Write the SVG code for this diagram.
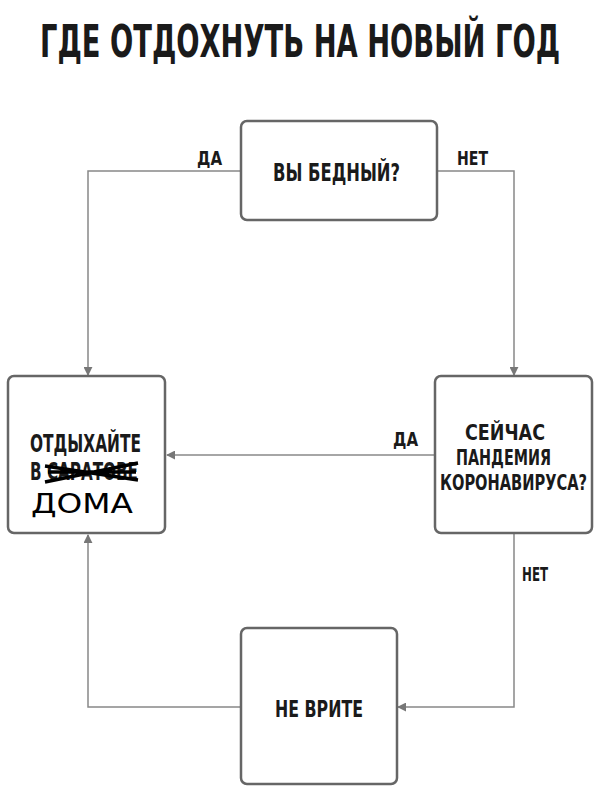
<svg xmlns="http://www.w3.org/2000/svg" width="600" height="790" viewBox="0 0 600 790">
<style>
.t{font-family:"DejaVu Sans Condensed","DejaVu Sans",sans-serif;font-weight:bold;fill:#1a1a1a;text-anchor:start}
.box{fill:#fff;stroke:#666;stroke-width:2.5}
.c{fill:none;stroke:#888;stroke-width:1.5}
</style>
<defs><marker id="a" viewBox="0 0 10 10" refX="9" refY="5" markerWidth="9" markerHeight="9" orient="auto" markerUnits="userSpaceOnUse"><path d="M0,0L10,5L0,10z" fill="#777"/></marker></defs>
<rect width="600" height="790" fill="#fff"/>
<text class="t" x="40" y="57" font-size="44" textLength="520" lengthAdjust="spacingAndGlyphs">ГДЕ ОТДОХНУТЬ НА НОВЫЙ ГОД</text>
<g id="connectors">
<path class="c" d="M241,171H88V375" marker-end="url(#a)"/>
<path class="c" d="M437,171H514V375" marker-end="url(#a)"/>
<path class="c" d="M435,455H167" marker-end="url(#a)"/>
<path class="c" d="M514,533V707H398" marker-end="url(#a)"/>
<path class="c" d="M241,707H88V535" marker-end="url(#a)"/>
<text class="t" x="197" y="165" font-size="20" textLength="25" lengthAdjust="spacingAndGlyphs">ДА</text>
<text class="t" x="457" y="165" font-size="20" textLength="31" lengthAdjust="spacingAndGlyphs">НЕТ</text>
<text class="t" x="393" y="446" font-size="20" textLength="25" lengthAdjust="spacingAndGlyphs">ДА</text>
<text class="t" x="522" y="581" font-size="20" textLength="26" lengthAdjust="spacingAndGlyphs">НЕТ</text>
</g>
<g id="n1"><rect class="box" x="241" y="121" width="196" height="99" rx="6"/><text class="t" x="273" y="181" font-size="24" textLength="127" lengthAdjust="spacingAndGlyphs">ВЫ БЕДНЫЙ?</text></g>
<g id="n2"><rect class="box" x="8" y="376" width="157" height="157" rx="6"/>
<text class="t" x="30" y="452" font-size="24" textLength="111" lengthAdjust="spacingAndGlyphs">ОТДЫХАЙТЕ</text>
<text class="t" x="30" y="480" font-size="24" textLength="108" lengthAdjust="spacingAndGlyphs">В САРАТОВЕ</text>
<path d="M45,482L138,463M45,466L138,480M48,472L136,472" stroke="#000" stroke-width="3.5" fill="none"/>
<text x="31" y="513" font-family="DejaVu Sans" font-size="26" fill="#000" font-weight="normal" textLength="102" lengthAdjust="spacingAndGlyphs">ДОМА</text>
</g>
<g id="n3"><rect class="box" x="435" y="376" width="157" height="157" rx="6"/>
<text class="t" x="465" y="440" font-size="22" textLength="80" lengthAdjust="spacingAndGlyphs">СЕЙЧАС</text>
<text class="t" x="456" y="465" font-size="22" textLength="95" lengthAdjust="spacingAndGlyphs">ПАНДЕМИЯ</text>
<text class="t" x="440" y="490" font-size="22" textLength="147" lengthAdjust="spacingAndGlyphs">КОРОНАВИРУСА?</text></g>
<g id="n4"><rect class="box" x="241" y="628" width="156" height="156" rx="6"/><text class="t" x="275" y="717" font-size="23" textLength="88" lengthAdjust="spacingAndGlyphs">НЕ ВРИТЕ</text></g>
</svg>
